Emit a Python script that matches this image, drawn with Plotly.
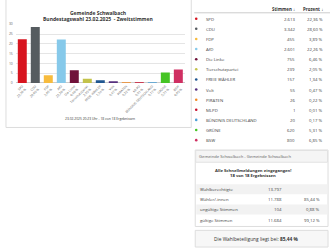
import plotly.graph_objects as go

# ---------------- data ----------------
parties = ["SPD", "CDU", "FDP", "AfD", "Die Linke", "Tierschutzpartei", "FREIE WÄHLER",
           "Volt", "PIRATEN", "MLPD", "BÜNDNIS DEUTSCHLAND", "GRÜNE", "BSW"]
votes = [2613, 3342, 455, 2601, 755, 239, 157, 55, 26, 1, 20, 620, 800]
percent = [22.36, 28.60, 3.89, 22.26, 6.46, 2.05, 1.34, 0.47, 0.22, 0.01, 0.17, 5.31, 6.85]
colors = ["#d7141f", "#565c60", "#f7bb3d", "#86c9ea", "#70123a", "#c3c24a", "#1f5690",
          "#56307f", "#f08a24", "#c8102e", "#4b9fd5", "#45c424", "#cf2f62"]

summary_labels = ["Wahlberechtigte", "Wähler/-innen", "ungültige Stimmen", "gültige Stimmen"]
summary_values = [13797, 11788, 104, 11684]
summary_pct = [None, 85.44, 0.88, 99.12]
turnout = 85.44
reported, total_reports = 18, 18

title_1 = "Gemeinde Schwalbach"
title_2 = "Bundestagswahl 23.02.2025  - Zweitstimmen"
footer = "23.02.2025 20:23 Uhr - 18 von 18 Ergebnissen"

# ---------------- helpers ----------------
W, H = 330, 251
FONT = "Open Sans"


def px(x):
    return x / W


def py(y):
    return 1 - y / H


def de_int(v):
    return f"{v:,}".replace(",", ".")


def de_pct(v):
    return f"{v:.2f}".replace(".", ",") + " %"


fig = go.Figure()

# ---------------- bar chart ----------------
fig.add_trace(go.Bar(
    x=parties, y=percent, marker=dict(color=colors, line=dict(width=0)),
    xaxis="x", yaxis="y", showlegend=False, hoverinfo="skip"))

# ---------------- party table (row index axis) ----------------
rows = list(range(len(parties)))
fig.add_trace(go.Scatter(
    x=[195] * len(parties), y=rows, mode="markers",
    marker=dict(size=2.6, color=colors), xaxis="x2", yaxis="y2",
    showlegend=False, hoverinfo="skip"))

annotations = []
tfont = dict(family=FONT, size=4.3, color="#444")
for i, (p, v, pc) in enumerate(zip(parties, votes, percent)):
    annotations.append(dict(x=203, y=i, xref="x2", yref="y2", text=p, showarrow=False,
                            xanchor="left", yanchor="middle", font=tfont))
    annotations.append(dict(x=297, y=i, xref="x2", yref="y2", text=de_int(v), showarrow=False,
                            xanchor="right", yanchor="middle", font=tfont))
    annotations.append(dict(x=325, y=i, xref="x2", yref="y2", text=de_pct(pc), showarrow=False,
                            xanchor="right", yanchor="middle", font=tfont))
hfont = dict(family=FONT, size=4.4, color="#333")
annotations.append(dict(x=297, y=-1, xref="x2", yref="y2", text="<b>Stimmen ↓</b>", showarrow=False,
                        xanchor="right", yanchor="middle", font=hfont))
annotations.append(dict(x=325, y=-1, xref="x2", yref="y2", text="<b>Prozent ↓</b>", showarrow=False,
                        xanchor="right", yanchor="middle", font=hfont))

# ---------------- summary table ----------------
shapes = []
for i, (lab, v, pc) in enumerate(zip(summary_labels, summary_values, summary_pct)):
    if i % 2 == 0:
        shapes.append(dict(type="rect", xref="x2", yref="y3", x0=195, x1=327.5,
                           y0=i - 0.5, y1=i + 0.5, fillcolor="#f2f2f2", line=dict(width=0),
                           layer="below"))
    annotations.append(dict(x=197, y=i, xref="x2", yref="y3", text=lab, showarrow=False,
                            xanchor="left", yanchor="middle", font=tfont))
    annotations.append(dict(x=284, y=i, xref="x2", yref="y3", text=de_int(v), showarrow=False,
                            xanchor="right", yanchor="middle", font=tfont))
    if pc is not None:
        annotations.append(dict(x=322, y=i, xref="x2", yref="y3", text=de_pct(pc), showarrow=False,
                                xanchor="right", yanchor="middle", font=tfont))

# ---------------- titles / decorations ----------------
annotations += [
    dict(x=px(96), y=py(9.8), xref="paper", yref="paper", text=f"<b>{title_1}</b>",
         showarrow=False, xanchor="center", yanchor="middle",
         font=dict(family=FONT, size=5.0, color="#333")),
    dict(x=px(96), y=py(16.6), xref="paper", yref="paper", text=f"<b>{title_2}</b>",
         showarrow=False, xanchor="center", yanchor="middle",
         font=dict(family=FONT, size=5.0, color="#333")),
    dict(x=px(98), y=py(118), xref="paper", yref="paper", text=footer,
         showarrow=False, xanchor="center", yanchor="middle",
         font=dict(family=FONT, size=3.3, color="#333")),
    dict(x=px(196), y=py(156.5), xref="paper", yref="paper",
         text="Gemeinde Schwalbach - Gemeinde Schwalbach",
         showarrow=False, xanchor="left", yanchor="middle",
         font=dict(family=FONT, size=4.2, color="#666")),
    dict(x=px(252), y=py(170.5), xref="paper", yref="paper",
         text="<b>Alle Schnellmeldungen eingegangen!</b>",
         showarrow=False, xanchor="center", yanchor="middle",
         font=dict(family=FONT, size=4.2, color="#333")),
    dict(x=px(252), y=py(176.5), xref="paper", yref="paper",
         text=f"<b>{reported} von {total_reports} Ergebnissen</b>",
         showarrow=False, xanchor="center", yanchor="middle",
         font=dict(family=FONT, size=4.2, color="#333")),
    dict(x=px(255), y=py(240.5), xref="paper", yref="paper",
         text=f"Die Wahlbeteiligung liegt bei: <b>{de_pct(turnout)}</b>",
         showarrow=False, xanchor="center", yanchor="middle",
         font=dict(family=FONT, size=4.8, color="#333")),
]

shapes += [
    # chart card
    dict(type="rect", xref="paper", yref="paper", x0=px(3), x1=px(190), y0=py(127), y1=py(-5),
         line=dict(color="#dddddd", width=1), layer="below"),
    # table header underline
    dict(type="line", xref="paper", yref="paper", x0=px(193), x1=px(330), y0=py(10), y1=py(10),
         line=dict(color="#cccccc", width=1)),
    # summary card
    dict(type="rect", xref="paper", yref="paper", x0=px(194), x1=px(328), y0=py(228), y1=py(150),
         line=dict(color="#dddddd", width=1), layer="below"),
    dict(type="rect", xref="paper", yref="paper", x0=px(194.5), x1=px(327.5), y0=py(162.5),
         y1=py(150.5), fillcolor="#f5f5f5", line=dict(color="#e2e2e2", width=1), layer="below"),
    # turnout box
    dict(type="rect", xref="paper", yref="paper", x0=px(194), x1=px(328), y0=py(249), y1=py(232),
         fillcolor="#f7f7f7", line=dict(color="#dddddd", width=1), layer="below"),
]

row_h = 10.33
fig.update_layout(
    width=W, height=H, margin=dict(l=0, r=0, t=0, b=0),
    paper_bgcolor="white", plot_bgcolor="rgba(0,0,0,0)",
    font=dict(family=FONT, color="#333"),
    bargap=0.31,
    xaxis=dict(domain=[px(12.9), px(183.5)], tickangle=-45,
               tickmode="array", tickvals=parties,
               ticktext=[f"{p}<br>{de_pct(c)}" for p, c in zip(parties, percent)],
               tickfont=dict(size=3.2, color="#666"), showgrid=False, ticks="",
               showline=False, anchor="y"),
    yaxis=dict(domain=[py(81.5), py(21.7)], range=[0, 30], dtick=5,
               gridcolor="#e5e5e5", gridwidth=0.6, zeroline=True, zerolinecolor="#cccccc",
               zerolinewidth=0.6,
               tickfont=dict(size=3.4, color="#666"), ticklabelstandoff=2, anchor="x"),
    xaxis2=dict(domain=[0, 1], range=[0, W], visible=False, anchor="y2"),
    yaxis2=dict(domain=[0, 1], range=[(H - 16) / row_h, -16 / row_h], visible=False, anchor="x2"),
    yaxis3=dict(domain=[0, 1], range=[(H - 190) / row_h, -190 / row_h], visible=False,
                anchor="x2", overlaying="y2"),
    annotations=annotations,
    shapes=shapes,
)

fig.write_html("out.html")
